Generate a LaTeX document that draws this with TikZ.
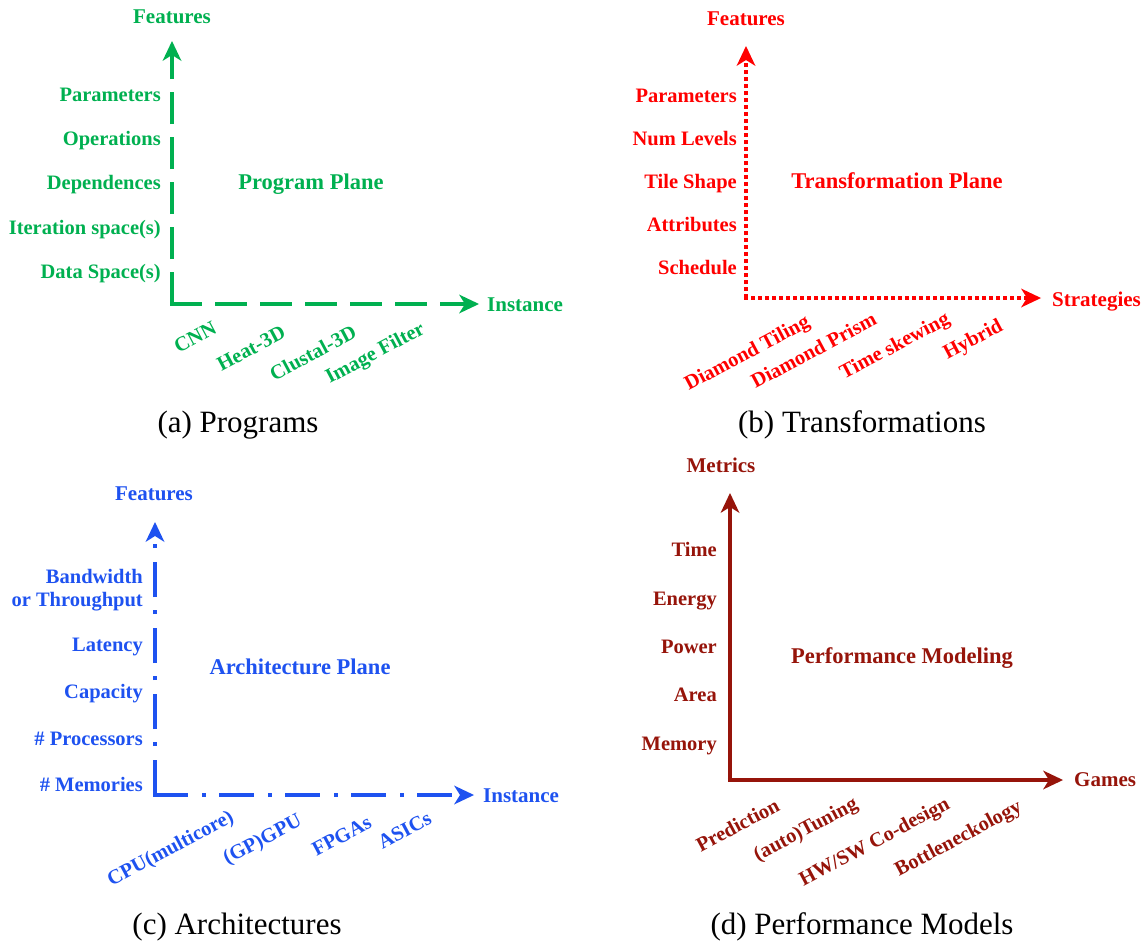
\documentclass[tikz,border=0pt]{standalone}
\usepackage{fontspec}
\setmainfont{Liberation Serif}
\usepackage{tikz}
\usetikzlibrary{arrows.meta}
\definecolor{progcol}{RGB}{0,176,80}
\definecolor{transcol}{RGB}{255,0,0}
\definecolor{archcol}{RGB}{30,82,240}
\definecolor{perfcol}{RGB}{150,20,10}

\begin{document}
\begin{tikzpicture}[x=1pt, y=-1pt,
  axis/.style={line width=4pt, -{Stealth[length=20pt, width=19pt, inset=6pt, line width=0pt]}},
  featbase/.style={anchor=east, inner sep=0pt, font=\fontsize{20.5}{23}\selectfont\bfseries},
  feat/.style={featbase, text height=13pt, text depth=0pt},
  inst/.style={feat, rotate=28},
  axname/.style={inner sep=0pt, text height=13pt, text depth=0pt, font=\fontsize{21}{24}\selectfont\bfseries},
  plane/.style={axname, font=\fontsize{22.5}{26}\selectfont\bfseries},
  capt/.style={inner sep=0pt, text height=20pt, text depth=0pt, font=\fontsize{31}{36}\selectfont}
]
  \useasboundingbox (0,0) rectangle (1148,940);

  % Programs (top left)
  \coordinate (a-o) at (172,304);
  \coordinate (a-y) at (172,41);
  \coordinate (a-x) at (479,304);
  \draw[axis, progcol, dash pattern=on 32pt off 13pt] (a-o) -- (a-y);
  \draw[axis, progcol, dash pattern=on 32pt off 13pt] ([xshift=-2pt]a-o) -- (a-x);
  \node[axname, text=progcol] (a-feat) at (172,17) {Features};
  \node[axname, text=progcol, anchor=west] (a-inst) at (487,305) {Instance};
  \node[plane, text=progcol] (a-plane) at (311,183) {Program Plane};
  \node[feat, text=progcol] (a-par) at (161,95) {Parameters};
  \node[feat, text=progcol] (a-ops) at (161,139) {Operations};
  \node[feat, text=progcol] (a-dep) at (161,183) {Dependences};
  \node[feat, text=progcol] (a-its) at (161,228) {Iteration space(s)};
  \node[feat, text=progcol] (a-dat) at (161,272) {Data Space(s)};
  \node[inst, text=progcol] (a-cnn) at (215,327) {CNN};
  \node[inst, text=progcol] (a-heat) at (284,331) {Heat-3D};
  \node[inst, text=progcol] (a-clus) at (355,331) {Clustal-3D};
  \node[inst, text=progcol] (a-img) at (423,327) {Image Filter};
  \node[capt] (a-cap) at (238,422) {(a) Programs};

  % Transformations (top right)
  \coordinate (b-o) at (746,298);
  \coordinate (b-y) at (746,46);
  \coordinate (b-x) at (1041,298);
  \draw[axis, transcol, dash pattern=on 4pt off 3pt] (b-o) -- (b-y);
  \draw[axis, transcol, dash pattern=on 4pt off 3pt] ([xshift=-2pt]b-o) -- (b-x);
  \node[axname, text=transcol] (b-feat) at (746,19) {Features};
  \node[axname, text=transcol, anchor=west] (b-strat) at (1052,300) {Strategies};
  \node[plane, text=transcol] (b-plane) at (897,182) {Transformation Plane};
  \node[feat, text=transcol] (b-par) at (737,96) {Parameters};
  \node[feat, text=transcol] (b-lev) at (737,139) {Num Levels};
  \node[feat, text=transcol] (b-tile) at (737,182) {Tile Shape};
  \node[feat, text=transcol] (b-att) at (737,225) {Attributes};
  \node[feat, text=transcol] (b-sch) at (737,268) {Schedule};
  \node[inst, text=transcol] (b-dt) at (808,320) {Diamond Tiling};
  \node[inst, text=transcol] (b-dp) at (875,318) {Diamond Prism};
  \node[inst, text=transcol] (b-ts) at (948,317) {Time skewing};
  \node[inst, text=transcol] (b-hyb) at (1001,324) {Hybrid};
  \node[capt] (b-cap) at (862,422) {(b) Transformations};

  % Architectures (bottom left)
  \coordinate (c-o) at (155,795);
  \coordinate (c-y) at (155,522);
  \coordinate (c-x) at (474,795);
  \draw[axis, archcol, dash pattern=on 35pt off 14pt on 4pt off 13pt] (c-o) -- (c-y);
  \draw[axis, archcol, dash pattern=on 35pt off 14pt on 4pt off 13pt] ([xshift=-2pt]c-o) -- (c-x);
  \node[axname, text=archcol] (c-feat) at (154,494) {Features};
  \node[axname, text=archcol, anchor=west] (c-inst) at (483,796) {Instance};
  \node[plane, text=archcol] (c-plane) at (300,668) {Architecture Plane};
  \node[featbase, text=archcol, align=right] (c-bw) at (143,590) {Bandwidth\\or Throughput};
  \node[feat, text=archcol] (c-lat) at (143,645) {Latency};
  \node[feat, text=archcol] (c-cap) at (143,692) {Capacity};
  \node[feat, text=archcol] (c-proc) at (143,739) {\# Processors};
  \node[feat, text=archcol] (c-mem) at (143,785) {\# Memories};
  \node[inst, text=archcol] (c-cpu) at (232,815) {CPU(multicore)};
  \node[inst, text=archcol] (c-gpu) at (300,819) {(GP)GPU};
  \node[inst, text=archcol] (c-fpga) at (370,821) {FPGAs};
  \node[inst, text=archcol] (c-asic) at (430,817) {ASICs};
  \node[capt] (c-capt) at (237,924) {(c) Architectures};

  % Performance models (bottom right)
  \coordinate (d-o) at (730,780);
  \coordinate (d-y) at (730,493);
  \coordinate (d-x) at (1063,780);
  \draw[axis, perfcol, line width=4.5pt] (d-o) -- (d-y);
  \draw[axis, perfcol, line width=4.5pt] ([xshift=-2.25pt]d-o) -- (d-x);
  \node[axname, text=perfcol] (d-met) at (721,466) {Metrics};
  \node[axname, text=perfcol, anchor=west] (d-games) at (1074,780) {Games};
  \node[plane, text=perfcol] (d-plane) at (902,657) {Performance Modeling};
  \node[feat, text=perfcol] (d-time) at (717,550) {Time};
  \node[feat, text=perfcol] (d-en) at (717,599) {Energy};
  \node[feat, text=perfcol] (d-pow) at (717,647) {Power};
  \node[feat, text=perfcol] (d-area) at (717,695) {Area};
  \node[feat, text=perfcol] (d-mem) at (717,744) {Memory};
  \node[inst, text=perfcol] (d-pred) at (778,804) {Prediction};
  \node[inst, text=perfcol] (d-tun) at (856,802) {(auto)Tuning};
  \node[inst, text=perfcol] (d-hw) at (948,802) {HW/SW Co-design};
  \node[inst, text=perfcol] (d-bot) at (1020,805) {Bottleneckology};
  \node[capt] (d-cap) at (862,924) {(d) Performance Models};
\end{tikzpicture}
\end{document}
